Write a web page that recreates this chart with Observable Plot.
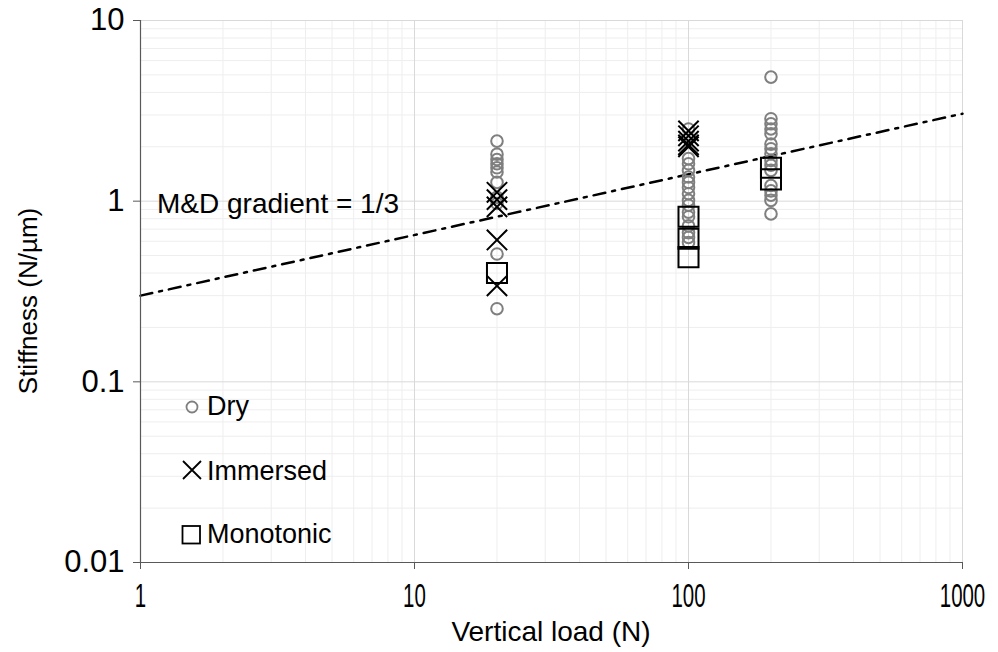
<!DOCTYPE html>
<html><head><meta charset="utf-8">
<script src="https://cdn.jsdelivr.net/npm/d3@7"></script>
<script src="https://cdn.jsdelivr.net/npm/@observablehq/plot@0.6"></script>
<style>
html,body{margin:0;padding:0;background:#fff;}
#wrap{position:relative;width:998px;height:652px;font-family:"Liberation Sans",Arial,sans-serif;}
#overlay{position:absolute;left:0;top:0;pointer-events:none;}
</style></head><body><div id="wrap"></div>
<script>
// ---- axis ticks ----
const xTicks = [1, 10, 100, 1000];
const xTickLabels = ["1", "10", "100", "1000"];
const yTicks = [0.01, 0.1, 1, 10];
const yTickLabels = ["0.01", "0.1", "1", "10"];

// ---- data (Vertical load N -> Stiffness N/µm) ----
const dry20  = [2.15, 1.82, 1.7, 1.61, 1.53, 1.45, 1.27, 1.05, 0.97, 0.51, 0.254];
const dry100 = [2.51, 1.72, 1.61, 1.48, 1.36, 1.27, 1.19, 1.1, 1.01, 0.95, 0.87, 0.82, 0.73, 0.67, 0.63, 0.59];
const dry200 = [4.86, 2.86, 2.68, 2.51, 2.36, 2.07, 1.95, 1.83, 1.68, 1.58, 1.48, 1.22, 1.14, 1.08, 1.01, 0.85];
const immersed20  = [1.12, 1.02, 0.93, 0.61, 0.34];
const immersed100 = [2.45, 2.3, 2.15, 2.05, 2.0];
const monotonic20  = [0.4];
const monotonic100 = [0.82, 0.62, 0.49];
const monotonic200 = [1.53, 1.32];
const mdLoads = [1, 1000];
const mdStiffness = [0.3, 3.05];

const seriesNames = ["Dry", "Immersed", "Monotonic"];
const annotation = "M&D gradient = 1/3";
const xTitle = "Vertical load (N)";
const yTitle = "Stiffness (N/µm)";

const rows = (load, vals) => vals.map(v => ({load, stiffness: v}));
const dryRows = [...rows(20, dry20), ...rows(100, dry100), ...rows(200, dry200)];
const immRows = [...rows(20, immersed20), ...rows(100, immersed100)];
const monoRows = [...rows(20, monotonic20), ...rows(100, monotonic100), ...rows(200, monotonic200)];
const mdRows = mdLoads.map((l, i) => ({load: l, stiffness: mdStiffness[i]}));

const xMinor = [1, 10, 100].flatMap(b => [2,3,4,5,6,7,8,9].map(m => m * b));
const yMinor = [0.01, 0.1, 1].flatMap(b => [2,3,4,5,6,7,8,9].map(m => +(m * b).toPrecision(3)));

const chart = Plot.plot({
  width: 998, height: 652,
  marginLeft: 140, marginRight: 36, marginTop: 20, marginBottom: 90,
  x: {type: "log", domain: [1, 1000]},
  y: {type: "log", domain: [0.01, 10]},
  style: {fontFamily: "'Liberation Sans', Arial, sans-serif", background: "white", color: "black", overflow: "visible"},
  marks: [
    Plot.ruleX(xMinor, {stroke: "#eeeeee", strokeWidth: 1}),
    Plot.ruleY(yMinor, {stroke: "#eeeeee", strokeWidth: 1}),
    Plot.ruleX(xTicks, {stroke: "#d9d9d9", strokeWidth: 1}),
    Plot.ruleY(yTicks, {stroke: "#d9d9d9", strokeWidth: 1}),
    Plot.line(mdRows, {x: "load", y: "stiffness", stroke: "black", strokeWidth: 2.5, strokeDasharray: "12,7,3,7"}),
    Plot.dot(dryRows, {x: "load", y: "stiffness", r: 5.8, stroke: "#7f7f7f", strokeWidth: 2, fill: "none"}),
    Plot.dot(immRows, {x: "load", y: "stiffness", symbol: "times", r: 9.3, stroke: "black", strokeWidth: 2}),
    Plot.dot(monoRows, {x: "load", y: "stiffness", symbol: "square", r: 11.3, stroke: "black", strokeWidth: 2, fill: "none"}),
    Plot.ruleX([1], {stroke: "#595959", strokeWidth: 1.2}),
    Plot.ruleY([0.01], {stroke: "#595959", strokeWidth: 1.2}),
    Plot.axisX({ticks: xTicks, tickFormat: d => xTickLabels[xTicks.indexOf(d)], tickSize: 7, tickPadding: 14,
      fontSize: 33, label: null, stroke: "#595959", fill: "black"}),
    Plot.axisY({ticks: yTicks, tickFormat: d => yTickLabels[yTicks.indexOf(d)], tickSize: 7, tickPadding: 9,
      fontSize: 31, label: null, stroke: "#595959", fill: "black"})
  ]
});
const wrap = document.getElementById("wrap");
wrap.appendChild(chart);

// condensed x tick labels as in the reference
chart.querySelectorAll('g[aria-label="x-axis tick label"] text').forEach(t => {
  const tr = t.getAttribute("transform") || "";
  t.setAttribute("transform", `${tr} scale(0.62,1)`);
});

// overlay: axis titles, annotation, legend
const ns = "http://www.w3.org/2000/svg";
const ov = document.createElementNS(ns, "svg");
ov.setAttribute("id", "overlay"); ov.setAttribute("width", 998); ov.setAttribute("height", 652);
ov.setAttribute("font-family", "'Liberation Sans', Arial, sans-serif");
function el(tag, attrs, text) {
  const e = document.createElementNS(ns, tag);
  for (const k in attrs) e.setAttribute(k, attrs[k]);
  if (text != null) e.textContent = text;
  ov.appendChild(e); return e;
}
el("text", {x: 551, y: 641, "text-anchor": "middle", "font-size": 28, fill: "black"}, xTitle);
el("text", {transform: "translate(37,301) rotate(-90)", "text-anchor": "middle", "font-size": 26, fill: "black"}, yTitle);
el("text", {x: 157, y: 213, "font-size": 28, fill: "black"}, annotation);
// legend
el("circle", {cx: 192, cy: 407, r: 5.5, fill: "none", stroke: "#7f7f7f", "stroke-width": 1.8});
el("text", {x: 207, y: 415, "font-size": 27, fill: "black"}, seriesNames[0]);
el("path", {d: "M183,461L201,479M183,479L201,461", stroke: "black", "stroke-width": 1.8, fill: "none"});
el("text", {x: 207, y: 480, "font-size": 27, fill: "black"}, seriesNames[1]);
el("rect", {x: 182.5, y: 526, width: 17.5, height: 17.5, stroke: "black", "stroke-width": 1.8, fill: "none"});
el("text", {x: 207, y: 543, "font-size": 27, fill: "black"}, seriesNames[2]);
wrap.appendChild(ov);
</script></body></html>
